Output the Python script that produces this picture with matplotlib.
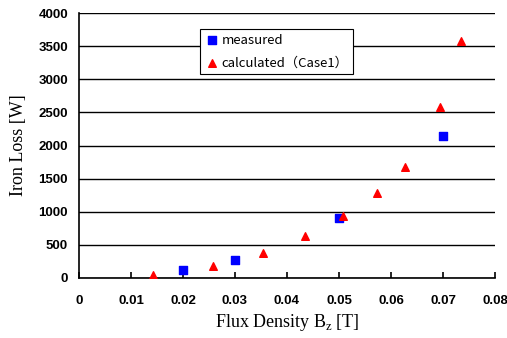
import numpy as np
from matplotlib import pyplot as plt

# measured iron loss
meas_b = [0.02, 0.03, 0.05, 0.07]
meas_w = [120, 275, 900, 2150]
# calculated (Case1)
calc_b = [0.0142, 0.0258, 0.0354, 0.0435, 0.0508, 0.0573, 0.0627, 0.0694, 0.0735]
calc_w = [40, 180, 380, 630, 940, 1290, 1670, 2580, 3580]

xticks = [0, 0.01, 0.02, 0.03, 0.04, 0.05, 0.06, 0.07, 0.08]
yticks = [0, 500, 1000, 1500, 2000, 2500, 3000, 3500, 4000]

fig = plt.figure(figsize=(5.07, 3.38), dpi=100)
ax = fig.add_axes([79/507, 60/338, 416/507, 265/338])

ax.scatter(meas_b, meas_w, marker='s', s=26, color='#0000ff', label='measured', zorder=3)
ax.scatter(calc_b, calc_w, marker='^', s=30, color='#ff0000', label='calculated（Case1）', zorder=3)

ax.set_xlim(0, 0.08)
ax.set_ylim(0, 4000)
ax.set_xticks(xticks)
ax.set_xticklabels(['0', '0.01', '0.02', '0.03', '0.04', '0.05', '0.06', '0.07', '0.08'])
ax.set_yticks(yticks)
ax.yaxis.grid(True, color='black', linewidth=1.0)
ax.set_axisbelow(True)
for s in ['top', 'right']:
    ax.spines[s].set_visible(False)
ax.spines['left'].set_linewidth(1.2)
ax.spines['bottom'].set_linewidth(1.2)
ax.tick_params(axis='x', direction='in', length=4, width=1.2, pad=12)
ax.tick_params(axis='y', length=0, pad=8)
for lab in ax.get_xticklabels() + ax.get_yticklabels():
    lab.set_fontfamily('Liberation Sans')
    lab.set_fontweight('bold')
    lab.set_fontsize(9.5)

ax.set_xlabel(r'Flux Density B$_\mathregular{z}$ [T]', fontfamily='Liberation Serif', fontsize=13, labelpad=4)
ax.set_ylabel('Iron Loss [W]', fontfamily='Liberation Serif', fontsize=13, labelpad=8)

leg = ax.legend(loc='upper left', bbox_to_anchor=(0.29, 0.94), frameon=True,
                fancybox=False, edgecolor='black', framealpha=1, handletextpad=0.2,
                borderpad=0.35, labelspacing=0.75, handlelength=1.1, borderaxespad=0,
                prop={'family': ['Noto Sans CJK JP', 'DejaVu Sans'], 'size': 9.5})
leg.get_frame().set_linewidth(0.8)

plt.savefig('out.png', dpi=100)
